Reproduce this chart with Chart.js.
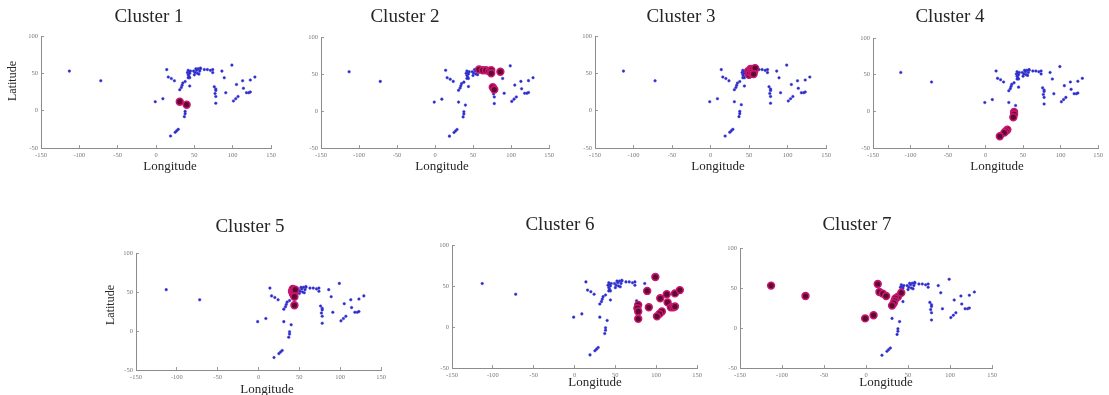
<!DOCTYPE html>
<html>
<head>
<meta charset="utf-8">
<title>Clusters</title>
<script src="https://cdn.jsdelivr.net/npm/chart.js@4/dist/chart.umd.min.js"></script>
<style>
  html, body { margin: 0; padding: 0; background: #fff; overflow: hidden; }
  #fig { position: relative; width: 1109px; height: 395px; }
  #fig canvas { position: absolute; left: 0; top: 0; }
</style>
</head>
<body>
<div id="fig"></div>
<script>
// site coordinates [longitude, latitude], one array per cluster
var cluster1 = [[31, 12], [40, 8]];
var cluster2 = [[58, 56], [63, 55], [67, 55], [71, 54], [74, 55], [74, 51], [86, 53], [76, 32], [78, 29]];
var cluster3 = [[49, 53], [50, 48], [51, 51], [52, 56], [53, 54], [54, 50], [55, 56], [57, 53], [58, 57], [56, 49]];
var cluster4 = [[38, -1], [38, -4], [37, -8], [29, -25], [27, -27], [25, -29], [19, -34]];
var cluster5 = [[41, 51], [42, 54], [42, 48], [43, 52], [43, 46], [44, 50], [44, 44], [45, 53], [44, 33]];
var cluster6 = [[99, 61], [89, 44], [78, 27], [77, 23], [78, 19], [78, 10], [91, 24], [105, 35], [113, 40],
                [123, 41], [129, 45], [114, 30], [118, 24], [121, 24], [123, 25], [107, 19], [104, 16], [101, 13]];
var cluster7 = [[-113, 53], [-72, 40], [14, 55], [16, 45], [20, 43], [24, 40], [38, 39], [35, 37], [34, 34],
                [33, 31], [31, 28], [42, 44], [-1, 12], [9, 16]];

var clusters = [cluster1, cluster2, cluster3, cluster4, cluster5, cluster6, cluster7];
var clusterNames = ['Cluster 1', 'Cluster 2', 'Cluster 3', 'Cluster 4', 'Cluster 5', 'Cluster 6', 'Cluster 7'];

var lonTicks = [-150, -100, -50, 0, 50, 100, 150];
var latTicks = [-50, 0, 50, 100];

// subplot frames in figure pixels: axes box [l, t, r, b] and text anchors
var panels = [
  { box: [41, 36, 271, 148],  title: [149, 17],  xlab: [170, 167], ylab: [13, 81] },
  { box: [321, 37, 549, 148], title: [405, 17],  xlab: [442, 167] },
  { box: [595, 36, 826, 148], title: [681, 17],  xlab: [718, 167] },
  { box: [873, 38, 1103, 148], title: [950, 17], xlab: [997, 167] },
  { box: [136, 253, 381, 370], title: [250, 227], xlab: [267, 390], ylab: [111, 305] },
  { box: [452, 245, 697, 368], title: [560, 225], xlab: [595, 383] },
  { box: [740, 248, 992, 368], title: [857, 225], xlab: [886, 383] }
];

var W = 1109, H = 395;
var Y_AXIS_W = 36, X_AXIS_H = 14;

// panel title and axis captions
var captions = {
  id: 'captions',
  afterDraw: function (chart, args, opts) {
    var ctx = chart.ctx;
    ctx.save();
    ctx.fillStyle = '#262626';
    ctx.textAlign = 'center';
    ctx.textBaseline = 'middle';
    ctx.font = '19px "Liberation Serif"';
    ctx.fillText(opts.title, opts.titleAt[0], opts.titleAt[1]);
    ctx.font = '13px "Liberation Serif"';
    ctx.fillText('Longitude', opts.xlabAt[0], opts.xlabAt[1]);
    if (opts.ylabAt) {
      ctx.translate(opts.ylabAt[0], opts.ylabAt[1]);
      ctx.rotate(-Math.PI / 2);
      ctx.font = '12px "Liberation Serif"';
      ctx.fillText('Latitude', 0, 0);
    }
    ctx.restore();
  }
};

function axisOpts(min, max, ticks, fit) {
  return {
    type: 'linear',
    min: min,
    max: max,
    afterBuildTicks: function (s) { s.ticks = ticks.map(function (v) { return { value: v }; }); },
    afterFit: fit,
    border: { display: true, color: '#8c8c8c', width: 1 },
    grid: { drawOnChartArea: false, drawTicks: true, tickLength: -3, color: '#9a9a9a' },
    ticks: {
      autoSkip: false,
      maxRotation: 0,
      padding: 6,
      color: '#777777',
      font: { family: '"Liberation Serif"', size: 6.5 }
    }
  };
}

var fig = document.getElementById('fig');

panels.forEach(function (p, i) {
  var canvas = document.createElement('canvas');
  canvas.width = W;
  canvas.height = H;
  fig.appendChild(canvas);

  var members = clusters[i];
  var others = [];
  clusters.forEach(function (c, j) { if (j !== i) others = others.concat(c); });
  var toXY = function (pt) { return { x: pt[0], y: pt[1] }; };

  new Chart(canvas.getContext('2d'), {
    type: 'scatter',
    data: {
      datasets: [{
        label: clusterNames[i],
        data: members.map(toXY),
        pointRadius: 3.4,
        pointBackgroundColor: '#5e0832',
        pointBorderColor: '#c8186e',
        pointBorderWidth: 1.6,
        order: 0
      }, {
        label: 'Other sites',
        data: others.map(toXY),
        pointRadius: 1.3,
        pointBackgroundColor: '#2a2ac0',
        pointBorderColor: '#4040e0',
        pointBorderWidth: 0.5,
        order: 1
      }]
    },
    options: {
      responsive: false,
      animation: false,
      events: [],
      layout: {
        autoPadding: false,
        padding: {
          left: p.box[0] - Y_AXIS_W,
          top: p.box[1],
          right: W - p.box[2],
          bottom: H - p.box[3] - X_AXIS_H
        }
      },
      scales: {
        x: axisOpts(-150, 150, lonTicks, function (s) { s.height = X_AXIS_H; }),
        y: axisOpts(-50, 100, latTicks, function (s) { s.width = Y_AXIS_W; })
      },
      plugins: {
        legend: { display: false },
        tooltip: { enabled: false },
        captions: {
          title: clusterNames[i],
          titleAt: p.title,
          xlabAt: p.xlab,
          ylabAt: p.ylab
        }
      }
    },
    plugins: [captions]
  });
});
</script>
</body>
</html>
